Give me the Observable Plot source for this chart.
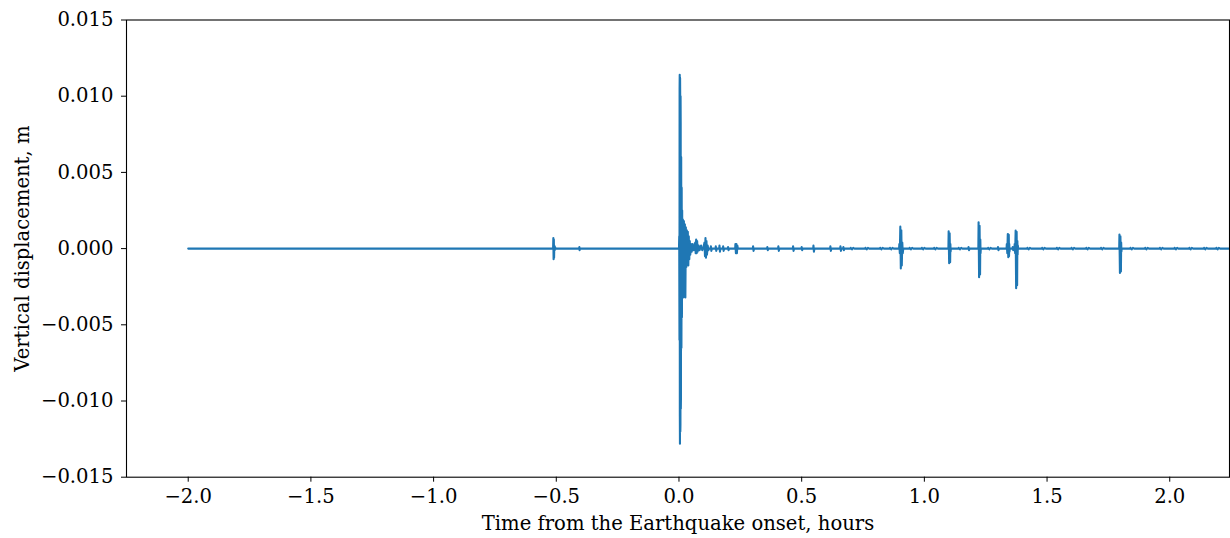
<!DOCTYPE html>
<html>
<head>
<meta charset="utf-8">
<script src="https://cdn.jsdelivr.net/npm/d3@7"></script>
<script src="https://cdn.jsdelivr.net/npm/@observablehq/plot@0.6"></script>
<style>
  html, body { margin: 0; padding: 0; background: #fff; }
</style>
</head>
<body>
<div id="chart"></div>
<script>
// [time from onset (hours), vertical displacement (m)]
const preEvent = [
  [-2.0, 0], [-0.513, 0], [-0.5120, 0.0007], [-0.5110, -0.0007], [-0.5100, 0.0006],
  [-0.5090, -0.0006], [-0.5080, 0.0002], [-0.5065, -0.0001], [-0.5050, 0.0001], [-0.5030, 0],
  [-0.407, 0], [-0.406, 0.0001], [-0.405, -0.0001], [-0.404, 0], [0.000, 0]
];
const mainShock = [
  [0.001, 0.0008], [0.002, -0.006], [0.0025, 0.0105], [0.003, 0.0114], [0.0035, -0.0110],
  [0.004, -0.0128], [0.0045, 0.0112], [0.005, 0.0098], [0.0055, -0.0120],
  [0.006, -0.0115], [0.0065, 0.0100], [0.007, 0.0083], [0.0075, -0.0105], [0.008, -0.0098],
  [0.009, 0.006], [0.010, -0.0065],
  [0.011, 0.004], [0.012, -0.0045], [0.013, 0.0025], [0.014, -0.0032], [0.016, 0.0019],
  [0.018, -0.0032], [0.020, 0.0018], [0.022, -0.0030], [0.024, 0.0016], [0.026, -0.0032],
  [0.028, 0.0014], [0.030, -0.0012], [0.032, 0.0012], [0.034, -0.0010], [0.036, 0.0011],
  [0.038, -0.0011], [0.040, 0.0008], [0.042, -0.0007], [0.044, 0.0005], [0.046, -0.0004],
  [0.049, 0.0003], [0.052, -0.0002], [0.056, 0.0003], [0.060, -0.0001], [0.064, 0.0001],
  [0.066, 0.0004], [0.068, -0.0003], [0.070, 0.0006], [0.072, -0.0003], [0.074, 0.0005],
  [0.076, -0.0002], [0.080, 0.0002], [0.084, -0.0001], [0.090, 0.0002], [0.095, -0.0001],
  [0.100, 0.0001], [0.104, 0.0004], [0.106, -0.0005], [0.108, 0.0007], [0.110, -0.0006],
  [0.112, 0.0005], [0.114, -0.0004], [0.117, 0.0002], [0.120, -0.0001], [0.122, 0]
];
const coda = [
  [0.129, 0], [0.130, 0.00015], [0.132, -0.00015], [0.134, 0],
  [0.149, 0], [0.150, 0.00015], [0.152, -0.00015], [0.154, 0],
  [0.164, 0], [0.165, 0.0002], [0.167, -0.0002], [0.169, 0],
  [0.179, 0], [0.180, 0.00015], [0.182, -0.00015], [0.184, 0],
  [0.199, 0], [0.200, 0.0001], [0.202, -0.0001], [0.204, 0],
  [0.229, 0], [0.230, 0.0003], [0.232, -0.0003], [0.234, 0.0003], [0.236, -0.0003], [0.238, 0.0002], [0.240, 0],
  [0.301, 0], [0.302, 0.00015], [0.304, -0.00015], [0.306, 0],
  [0.359, 0], [0.360, 0.0001], [0.362, -0.0001], [0.364, 0],
  [0.404, 0], [0.405, 0.00015], [0.407, -0.00015], [0.409, 0],
  [0.464, 0], [0.465, 0.00015], [0.467, -0.00015], [0.469, 0],
  [0.499, 0], [0.500, 0.0001], [0.502, -0.0001], [0.504, 0],
  [0.547, 0], [0.548, 0.0002], [0.550, -0.0002], [0.552, 0],
  [0.616, 0], [0.617, 0.00015], [0.619, -0.00015], [0.621, 0],
  [0.657, 0], [0.658, 0.00015], [0.660, -0.00015], [0.662, 0],
  [0.669, 0], [0.670, 0.0001], [0.672, -0.0001], [0.674, 0],
  [0.699, 0], [0.700, 0.00005], [0.705, -0.00005], [0.710, 0.00005], [0.715, 0],
  [0.759, 0], [0.760, 0.00005], [0.765, -0.00005], [0.770, 0.00005], [0.775, 0],
  [0.819, 0], [0.820, 0.00005], [0.825, -0.00005], [0.830, 0.00005], [0.835, 0],
  [0.859, 0], [0.860, 0.00005], [0.865, -0.00005], [0.870, 0.00005], [0.875, 0]
];
const aftershocks = [
  [0.897, 0], [0.898, 0.0003], [0.900, -0.0003], [0.902, 0.00144], [0.904, -0.0013], [0.906, 0.0012],
  [0.908, -0.0011], [0.910, 0.0004], [0.912, -0.0003], [0.914, 0],
  [0.939, 0], [0.940, 0.00005], [0.945, -0.00005], [0.950, 0.00005], [0.955, 0],
  [0.989, 0], [0.990, 0.00005], [0.995, -0.00005], [1.000, 0.00005], [1.005, 0],
  [1.039, 0], [1.040, 0.00005], [1.045, -0.00005], [1.050, 0.00005], [1.055, 0],
  [1.098, 0], [1.099, 0.00114], [1.101, -0.00096], [1.103, 0.0010], [1.105, -0.0009], [1.106, 0.0003], [1.107, -0.0002], [1.108, 0],
  [1.139, 0], [1.140, 0.00005], [1.145, -0.00005], [1.150, 0.00005], [1.155, 0],
  [1.179, 0], [1.180, 0.0001], [1.182, -0.0001], [1.184, 0],
  [1.220, 0], [1.221, 0.00173], [1.223, -0.00188], [1.225, 0.0015], [1.227, -0.0017], [1.228, 0.0006], [1.229, -0.0003], [1.230, 0],
  [1.259, 0], [1.260, 0.00005], [1.265, -0.00005], [1.270, 0.00005], [1.275, 0],
  [1.299, 0], [1.300, 0.0001], [1.302, -0.0001], [1.304, 0],
  [1.335, 0], [1.336, 0.0003], [1.338, -0.0003], [1.340, 0.00096], [1.342, -0.00057], [1.344, 0.0009], [1.345, -0.0005], [1.346, 0.0003],
  [1.347, -0.0002], [1.348, 0], [1.359, 0], [1.360, 0.0001], [1.362, -0.0001], [1.364, 0],
  [1.367, 0], [1.368, 0.0003], [1.370, -0.0003], [1.372, 0.00118], [1.374, -0.0026], [1.376, 0.0011], [1.378, -0.0024], [1.379, 0.0005],
  [1.380, -0.0004], [1.381, 0.0002], [1.382, 0],
  [1.419, 0], [1.420, 0.00005], [1.425, -0.00005], [1.430, 0.00005], [1.435, 0],
  [1.479, 0], [1.480, 0.00005], [1.485, -0.00005], [1.490, 0.00005], [1.495, 0],
  [1.539, 0], [1.540, 0.00005], [1.545, -0.00005], [1.550, 0.00005], [1.555, 0],
  [1.599, 0], [1.600, 0.00005], [1.605, -0.00005], [1.610, 0.00005], [1.615, 0],
  [1.659, 0], [1.660, 0.00005], [1.665, -0.00005], [1.670, 0.00005], [1.675, 0],
  [1.719, 0], [1.720, 0.00005], [1.725, -0.00005], [1.730, 0.00005], [1.735, 0],
  [1.794, 0], [1.795, 0.00092], [1.797, -0.0016], [1.799, 0.0008], [1.801, -0.0015], [1.802, 0.0004], [1.803, -0.0002], [1.804, 0],
  [1.839, 0], [1.840, 0.00005], [1.845, -0.00005], [1.850, 0.00005], [1.855, 0],
  [1.899, 0], [1.900, 0.00005], [1.905, -0.00005], [1.910, 0.00005], [1.915, 0],
  [1.959, 0], [1.960, 0.00005], [1.965, -0.00005], [1.970, 0.00005], [1.975, 0],
  [2.019, 0], [2.020, 0.00005], [2.025, -0.00005], [2.030, 0.00005], [2.035, 0],
  [2.079, 0], [2.080, 0.00005], [2.085, -0.00005], [2.090, 0.00005], [2.095, 0],
  [2.139, 0], [2.140, 0.00005], [2.145, -0.00005], [2.150, 0.00005], [2.155, 0],
  [2.189, 0], [2.190, 0.00005], [2.195, -0.00005], [2.200, 0.00005], [2.205, 0],
  [2.250, 0]
];
const xTicks = [-2.0, -1.5, -1.0, -0.5, 0.0, 0.5, 1.0, 1.5, 2.0];
const yTicks = [-0.015, -0.010, -0.005, 0.000, 0.005, 0.010, 0.015];
const xLabel = "Time from the Earthquake onset, hours";
const yLabel = "Vertical displacement, m";

const data = [...preEvent, ...mainShock, ...coda, ...aftershocks].map(([t, v]) => ({t, v}));

const chart = Plot.plot({
  width: 1230,
  height: 538,
  marginLeft: 126,
  marginRight: 1,
  marginTop: 19.5,
  marginBottom: 61.3,
  style: {fontFamily: "'DejaVu Serif', serif", fontSize: "19.6px", background: "#fff", color: "#000", overflow: "visible"},
  x: {domain: [-2.2515, 2.2435]},
  y: {domain: [-0.015, 0.015]},
  marks: [
    Plot.line(data, {x: "t", y: "v", stroke: "#1f77b4", strokeWidth: 2.1, clip: true, strokeLinejoin: "round"}),
    Plot.frame({stroke: "#000", strokeWidth: 1.1}),
    Plot.axisX({ticks: xTicks, tickFormat: d3.format(".1f"), tickSize: 5, tickPadding: 7, label: null}),
    Plot.axisY({ticks: yTicks, tickFormat: d3.format(".3f"), tickSize: 5, tickPadding: 8, label: null}),
    Plot.text([xLabel], {frameAnchor: "bottom", dy: 46.5, lineAnchor: "middle", textAnchor: "middle", fill: "#000"}),
    Plot.text([yLabel], {frameAnchor: "left", dx: -104, rotate: -90, textAnchor: "middle", lineAnchor: "middle", fill: "#000"})
  ]
});
document.getElementById("chart").appendChild(chart);
</script>
</body>
</html>
